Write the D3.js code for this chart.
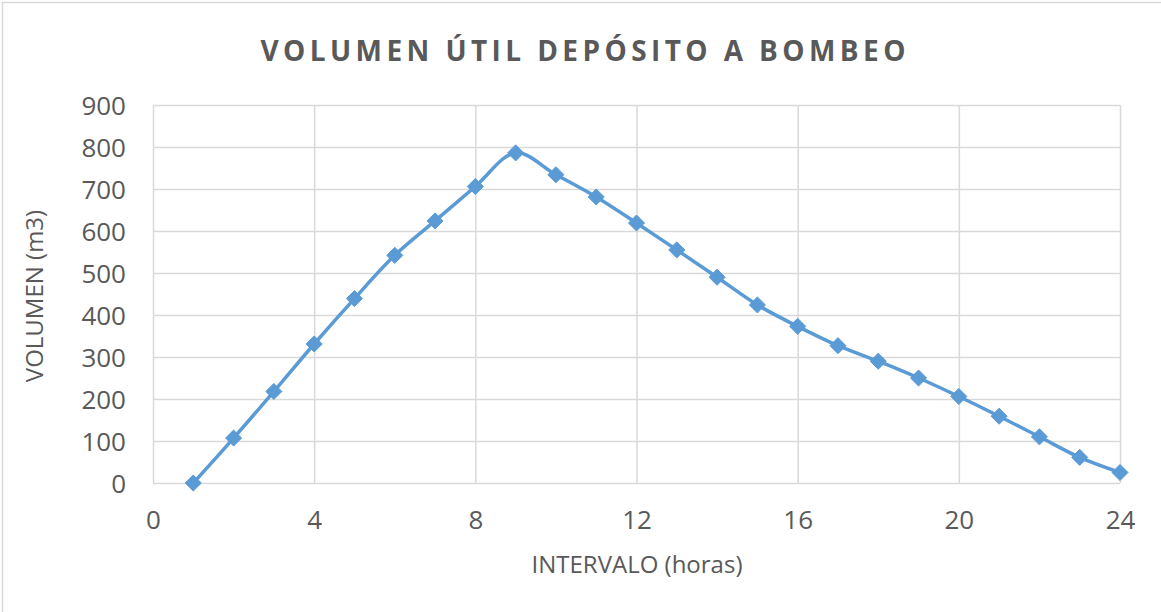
<!DOCTYPE html>
<html>
<head>
<meta charset="utf-8">
<script src="https://cdn.jsdelivr.net/npm/d3@7"></script>
<style>
  html, body { margin: 0; padding: 0; background: #fff; }
  svg { display: block; }
  text { font-family: "Open Sans", "Liberation Sans", sans-serif; fill: #595959; }
</style>
</head>
<body>
<svg id="chart" width="1161" height="612"></svg>
<script>
// Hourly interval and usable volume (m3) of the pumping tank
const hours = [1, 2, 3, 4, 5, 6, 7, 8, 9, 10, 11, 12, 13, 14, 15, 16, 17, 18, 19, 20, 21, 22, 23, 24];
const volume = [0, 107, 218, 331, 439, 542, 624, 706, 786, 734, 681, 619, 555, 490, 424, 373, 327, 290, 250, 206, 159, 110, 61, 25];
const xTicks = [0, 4, 8, 12, 16, 20, 24];
const yTicks = [0, 100, 200, 300, 400, 500, 600, 700, 800, 900];

const titleText = "VOLUMEN ÚTIL DEPÓSITO A BOMBEO";
const xTitle = "INTERVALO (horas)";
const yTitle = "VOLUMEN (m3)";

const W = 1161, H = 612;
const plot = { left: 153, right: 1120, top: 105, bottom: 483 };
const lineColor = "#5b9bd5";
const gridColor = "#d9d9d9";

const svg = d3.select("#chart");

// chart frame
svg.append("rect")
  .attr("x", 2.5).attr("y", 2.5)
  .attr("width", W + 10).attr("height", H + 10)
  .attr("fill", "#fff").attr("stroke", gridColor).attr("stroke-width", 1.5);

const x = d3.scaleLinear().domain([0, 24]).range([plot.left, plot.right]);
const y = d3.scaleLinear().domain([0, 900]).range([plot.bottom, plot.top]);

// horizontal gridlines + y labels
const yAxis = d3.axisLeft(y).tickValues(yTicks)
  .tickSize(-(plot.right - plot.left)).tickPadding(27).tickFormat(d3.format("d"));
const gy = svg.append("g").attr("transform", `translate(${plot.left},0)`).call(yAxis);
gy.select(".domain").remove();
gy.selectAll(".tick line").attr("stroke", gridColor).attr("stroke-width", 1.5);
gy.selectAll(".tick text")
  .style("font-size", "26px").attr("fill", "#595959").attr("dy", "0.35em");

// vertical gridlines + x labels
const xAxis = d3.axisBottom(x).tickValues(xTicks)
  .tickSize(-(plot.bottom - plot.top)).tickPadding(28).tickFormat(d3.format("d"));
const gx = svg.append("g").attr("transform", `translate(0,${plot.bottom})`).call(xAxis);
gx.select(".domain").remove();
gx.selectAll(".tick line").attr("stroke", gridColor).attr("stroke-width", 1.5);
gx.selectAll(".tick text")
  .style("font-size", "26px").attr("fill", "#595959").attr("dy", "0.71em");

// series line (smoothed)
const pts = hours.map((h, i) => [h, volume[i]]);
const line = d3.line()
  .x(d => x(d[0])).y(d => y(d[1]))
  .curve(d3.curveCatmullRom.alpha(0.5));
svg.append("path")
  .datum(pts)
  .attr("d", line)
  .attr("fill", "none")
  .attr("stroke", lineColor)
  .attr("stroke-width", 3.5)
  .attr("stroke-linejoin", "round");

// diamond markers
const diamond = d3.symbol().type(d3.symbolDiamond2).size(165);
svg.append("g").selectAll("path")
  .data(pts)
  .join("path")
  .attr("transform", d => `translate(${x(d[0])},${y(d[1])})`)
  .attr("d", diamond)
  .attr("fill", lineColor)
  .attr("stroke", lineColor)
  .attr("stroke-width", 1);

// title, spaced out to span its full width
const title = svg.append("text")
  .attr("x", 583).attr("y", 61)
  .attr("text-anchor", "middle")
  .style("font-size", "28px").style("font-weight", "bold")
  .text(titleText);
const titleWidth = 645;
const natural = title.node().getComputedTextLength();
const spacing = Math.max(0, (titleWidth - natural) / (titleText.length - 1));
title.style("letter-spacing", spacing + "px")
  .attr("x", 583 + spacing / 2);

// axis titles
svg.append("text")
  .attr("x", 637).attr("y", 573)
  .attr("text-anchor", "middle")
  .style("font-size", "24px")
  .text(xTitle);

svg.append("text")
  .attr("transform", "translate(43,296) rotate(-90)")
  .attr("text-anchor", "middle")
  .style("font-size", "24px")
  .text(yTitle);
</script>
</body>
</html>
